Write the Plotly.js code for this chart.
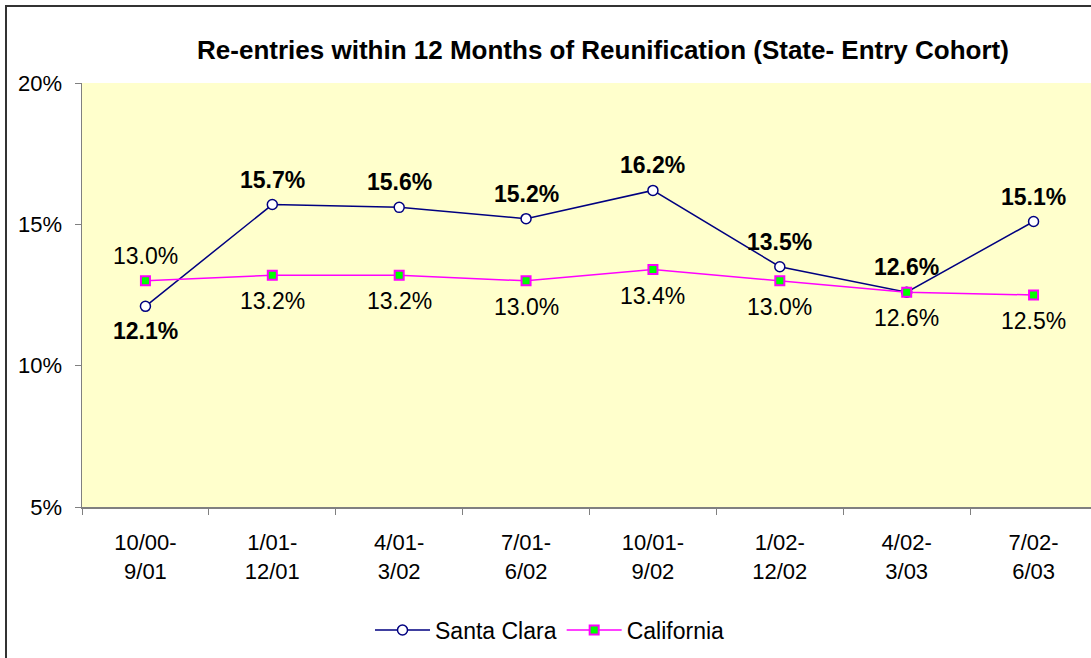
<!DOCTYPE html>
<html>
<head>
<meta charset="utf-8">
<script src="https://cdn.plot.ly/plotly-3.0.1.min.js"></script>
<style>
html, body { margin:0; padding:0; overflow:hidden; background:#fff; }
#wrap { position:relative; width:1091px; height:658px; overflow:hidden; }
#chart { position:absolute; left:0; top:0; width:1100px; height:658px; }
#frame { position:absolute; left:5px; top:5px; width:1200px; height:800px; border-left:2px solid #333; border-top:2px solid #333; pointer-events:none; }
</style>
</head>
<body>
<div id="wrap"><div id="chart"></div><div id="frame"></div></div>
<script>
const categories = ["10/00-<br>9/01","1/01-<br>12/01","4/01-<br>3/02","7/01-<br>6/02","10/01-<br>9/02","1/02-<br>12/02","4/02-<br>3/03","7/02-<br>6/03"];
const santaClara = [12.1, 15.7, 15.6, 15.2, 16.2, 13.5, 12.6, 15.1];
const california = [13.0, 13.2, 13.2, 13.0, 13.4, 13.0, 12.6, 12.5];
const yTicks = [5, 10, 15, 20];
// label placement: +1 above, -1 below
const scLabelSide = [-1, 1, 1, 1, 1, 1, 1, 1];
const caLabelSide = [1, -1, -1, -1, -1, -1, -1, -1];

const font = "Arial, 'Liberation Sans', sans-serif";

const traceSC = {
  x: categories, y: santaClara, name: "Santa Clara", type: "scatter", mode: "lines+markers",
  line: {color: "#000080", width: 1.5},
  marker: {symbol: "circle", size: 10, color: "#ffffff", line: {color: "#000080", width: 1.5}},
  cliponaxis: false
};
const traceCA = {
  x: categories, y: california, name: "California", type: "scatter", mode: "lines+markers",
  line: {color: "#ff00ff", width: 1.5},
  marker: {symbol: "square", size: 9, color: "#00ff00", line: {color: "#ff00ff", width: 2}},
  cliponaxis: false
};

const annotations = [];
santaClara.forEach((v, i) => annotations.push({
  x: categories[i], y: v, xref: "x", yref: "y", showarrow: false,
  text: "<b>" + v.toFixed(1) + "%</b>", yanchor: "middle", yshift: 25 * scLabelSide[i],
  font: {family: font, size: 23, color: "#000"}
}));
california.forEach((v, i) => annotations.push({
  x: categories[i], y: v, xref: "x", yref: "y", showarrow: false,
  text: v.toFixed(1) + "%", yanchor: "middle", yshift: 25 * caLabelSide[i] + (caLabelSide[i] < 0 ? -1 : 0),
  font: {family: font, size: 23, color: "#000"}
}));

const layout = {
  width: 1100, height: 658,
  margin: {l: 82, r: 3, t: 83, b: 151},
  paper_bgcolor: "#ffffff", plot_bgcolor: "#ffffcc",
  font: {family: font, size: 22, color: "#000"},
  title: {text: "<b>Re-entries within 12 Months of Reunification (State- Entry Cohort)</b>",
          font: {family: font, size: 26, color: "#000"},
          x: 603/1100, xref: "container", xanchor: "center", y: 1 - 50/658, yref: "container", yanchor: "middle"},
  xaxis: {type: "category", tickson: "boundaries", ticks: "outside", ticklen: 6, tickcolor: "#808080",
          showline: true, linecolor: "#808080", linewidth: 1.5, showgrid: false, zeroline: false,
          range: [-0.5, 7.5], tickfont: {family: font, size: 22}, ticklabelstandoff: 15, fixedrange: true},
  yaxis: {range: [5, 20], tickvals: yTicks, ticktext: yTicks.map(v => v + "%"), ticks: "outside", ticklen: 6,
          tickcolor: "#808080", showline: true, linecolor: "#808080", linewidth: 1.5, showgrid: false, zeroline: false,
          tickfont: {family: font, size: 22}, ticklabelstandoff: 8, fixedrange: true},
  annotations: annotations,
  showlegend: true,
  legend: {orientation: "h", x: (550-82)/1015, xanchor: "center", y: 1 - (630-83)/424, yanchor: "middle",
           font: {family: font, size: 23}, bgcolor: "rgba(0,0,0,0)", itemwidth: 55}
};

Plotly.newPlot("chart", [traceSC, traceCA], layout, {displayModeBar: false, staticPlot: true});
</script>
</body>
</html>
